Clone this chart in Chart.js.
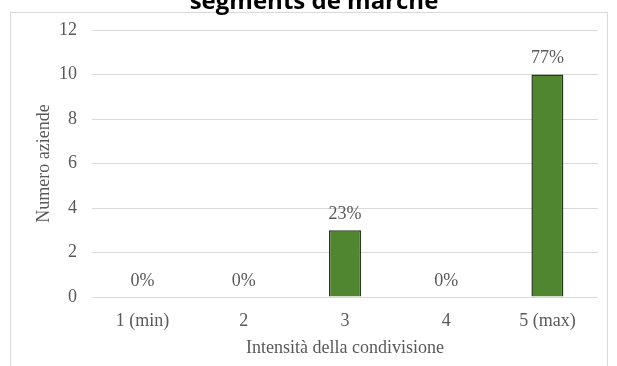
<!DOCTYPE html>
<html>
<head>
<meta charset="utf-8">
<script src="https://cdn.jsdelivr.net/npm/chart.js@4.4.1/dist/chart.umd.min.js"></script>
<style>
  html, body { margin: 0; padding: 0; background: #fff; overflow: hidden; }
  #frame { position: absolute; left: 10px; top: 12px; width: 596px; height: 400px; border: 1px solid #d9d9d9; }
  #grafico { position: absolute; left: 0; top: 0; }
</style>
</head>
<body>
<div id="frame"></div>
<canvas id="grafico" width="617" height="366"></canvas>
<script>
// dati del grafico
const titolo = 'segments de marché';
const categorie = ['1 (min)', '2', '3', '4', '5 (max)'];
const numeroAziende = [0, 0, 3, 0, 10];
const percentuali = ['0%', '0%', '23%', '0%', '77%'];
const tickY = [0, 2, 4, 6, 8, 10, 12];

const grigio = '#595959';
const serif = "'Liberation Serif', 'DejaVu Serif', serif";

// titolo tagliato in alto, come nell'originale
const titoloPlugin = {
  id: 'titoloTagliato',
  afterDraw(chart) {
    const ctx = chart.ctx;
    ctx.save();
    ctx.font = "bold 24px 'Open Sans', sans-serif";
    ctx.fillStyle = '#000';
    ctx.textAlign = 'center';
    ctx.textBaseline = 'alphabetic';
    ctx.fillText(titolo, 314, 9);
    ctx.restore();
  }
};

// etichette percentuali sopra le barre
const etichettePlugin = {
  id: 'etichette',
  afterDatasetsDraw(chart) {
    const ctx = chart.ctx;
    const meta = chart.getDatasetMeta(0);
    ctx.save();
    ctx.font = '18px ' + serif;
    ctx.fillStyle = grigio;
    ctx.textAlign = 'center';
    ctx.textBaseline = 'middle';
    meta.data.forEach((bar, i) => {
      ctx.fillText(percentuali[i], bar.x, bar.y - 16);
    });
    ctx.restore();
  }
};

const ctx = document.getElementById('grafico').getContext('2d');
const grafico = new Chart(ctx, {
  type: 'bar',
  data: {
    labels: categorie,
    datasets: [{
      label: 'Numero aziende',
      data: numeroAziende,
      backgroundColor: '#518631',
      borderColor: '#26381a',
      borderWidth: 1.5,
      barPercentage: 0.316,
      categoryPercentage: 1
    }]
  },
  options: {
    responsive: false,
    animation: false,
    layout: { padding: { top: 30, right: 19, left: 0, bottom: 0 } },
    plugins: {
      legend: { display: false },
      tooltip: { enabled: false }
    },
    scales: {
      x: {
        grid: { display: false, drawTicks: false },
        border: { display: false },
        ticks: { color: grigio, font: { family: serif, size: 18 }, padding: 13 },
        title: {
          display: true,
          text: 'Intensità della condivisione',
          color: grigio,
          font: { family: serif, size: 18 },
          padding: { top: 0, bottom: 7 }
        },
        afterFit(scale) { scale.height = 69; }
      },
      y: {
        min: 0,
        max: 12,
        afterBuildTicks(scale) { scale.ticks = tickY.map(v => ({ value: v })); },
        grid: { color: '#d9d9d9', drawTicks: false },
        border: { display: false },
        ticks: { color: grigio, font: { family: serif, size: 18 }, padding: 15 },
        title: {
          display: true,
          text: 'Numero aziende',
          color: grigio,
          font: { family: serif, size: 18 },
          padding: { top: 33, bottom: 0 }
        },
        afterFit(scale) { scale.width = 92; }
      }
    }
  },
  plugins: [titoloPlugin, etichettePlugin]
});
</script>
</body>
</html>
